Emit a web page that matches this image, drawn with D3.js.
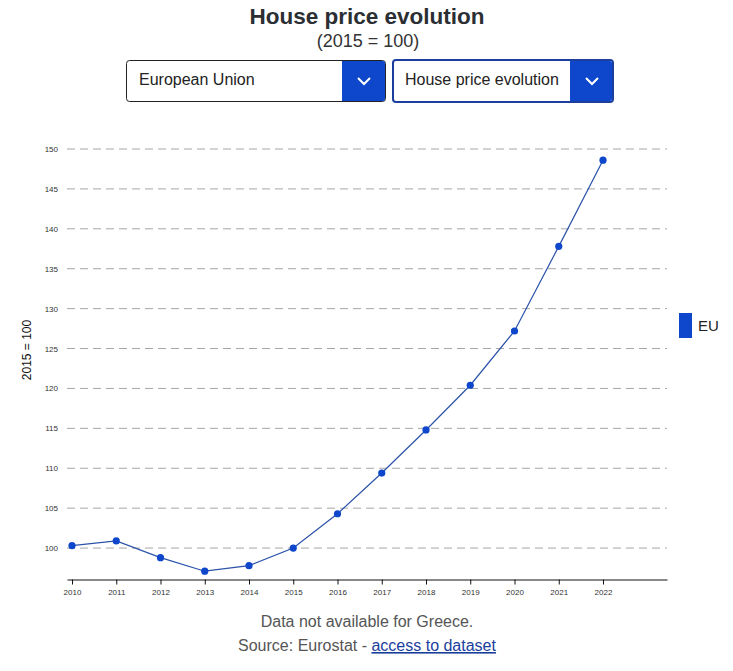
<!DOCTYPE html>
<html><head><meta charset="utf-8">
<script src="https://cdn.jsdelivr.net/npm/d3@7"></script>
<style>
html,body{margin:0;padding:0;background:#fff;}
svg{display:block;font-family:"Liberation Sans",Arial,sans-serif;}
</style></head>
<body>
<svg id="c" width="733" height="671"></svg>
<script>
const years = [2010,2011,2012,2013,2014,2015,2016,2017,2018,2019,2020,2021,2022];
const euValues = [100.3,100.9,98.8,97.1,97.8,100.0,104.3,109.4,114.8,120.4,127.2,137.8,148.6];
const yTicks = [100,105,110,115,120,125,130,135,140,145,150];
const seriesName = "EU";
const title = "House price evolution";
const subtitle = "(2015 = 100)";
const yLabel = "2015 = 100";
const dropdown1 = "European Union";
const dropdown2 = "House price evolution";
const note = "Data not available for Greece.";

const blue = "#0e47cb";
const svg = d3.select("#c");

// title
svg.append("text").attr("x",367).attr("y",24).attr("text-anchor","middle")
  .attr("font-size",22.5).attr("font-weight","bold").attr("fill","#2b2f33").text(title);
svg.append("text").attr("x",368).attr("y",47).attr("text-anchor","middle")
  .attr("font-size",18).attr("fill","#333").text(subtitle);

// dropdowns
function dropdown(x,y,w,h,btnW,border,bw,label){
  const g = svg.append("g");
  g.append("rect").attr("x",x+bw/2).attr("y",y+bw/2).attr("width",w-bw).attr("height",h-bw)
    .attr("rx",3).attr("fill","#fff").attr("stroke",border).attr("stroke-width",bw);
  g.append("path").attr("d",`M${x+w-btnW},${y+bw} H${x+w-bw-2} Q${x+w-bw},${y+bw} ${x+w-bw},${y+bw+2} V${y+h-bw-2} Q${x+w-bw},${y+h-bw} ${x+w-bw-2},${y+h-bw} H${x+w-btnW} Z`)
    .attr("fill",blue);
  const cx = x+w-btnW/2, cy = y+h/2;
  g.append("path").attr("d",`M${cx-6},${cy-3} L${cx},${cy+3} L${cx+6},${cy-3}`)
    .attr("fill","none").attr("stroke","#fff").attr("stroke-width",2);
  g.append("text").attr("x",x+13).attr("y",y+h/2+3.5).attr("font-size",16).attr("fill","#222").text(label);
}
dropdown(126,60,260,42,44,"#222",1,dropdown1);
dropdown(392,59,222,44,44,"#1c3f9e",2,dropdown2);

// scales
const x = d3.scaleLinear().domain([2009.887,2023.446]).range([67,667]);
const y = d3.scaleLinear().domain([96,150]).range([580,149]);

// grid
svg.append("g").selectAll("line").data(yTicks).join("line")
  .attr("x1",67).attr("x2",667).attr("y1",d=>y(d)).attr("y2",d=>y(d))
  .attr("stroke","#a6a6a6").attr("stroke-width",1).attr("stroke-dasharray","8,5");

// y tick labels
svg.append("g").selectAll("text").data(yTicks).join("text")
  .attr("x",58).attr("y",d=>y(d)+3).attr("text-anchor","end")
  .attr("font-size",8).attr("fill","#333").text(d=>d);

// y label
svg.append("text").attr("transform","translate(31,350) rotate(-90)")
  .attr("text-anchor","middle").attr("font-size",12).attr("fill","#111").text(yLabel);

// x axis
const xAxis = d3.axisBottom(x).tickValues(years).tickFormat(d3.format("d")).tickSize(5).tickSizeOuter(0);
const gx = svg.append("g").attr("transform","translate(0,579.5)").call(xAxis);
gx.select(".domain").attr("stroke","#111");
gx.selectAll(".tick line").attr("stroke","#111");
gx.selectAll(".tick text").attr("font-size",8).attr("fill","#333")
  .attr("font-family","Liberation Sans, Arial, sans-serif").attr("dy","0.9em");

// line
const data = years.map((yr,i)=>({yr, v:euValues[i]}));
svg.append("path").datum(data)
  .attr("d",d3.line().x(d=>x(d.yr)).y(d=>y(d.v)))
  .attr("fill","none").attr("stroke","#2a52a8").attr("stroke-width",1.2);
svg.append("g").selectAll("circle").data(data).join("circle")
  .attr("cx",d=>x(d.yr)).attr("cy",d=>y(d.v)).attr("r",3.6).attr("fill",blue);

// legend
svg.append("rect").attr("x",679).attr("y",313).attr("width",13).attr("height",25).attr("fill",blue);
svg.append("text").attr("x",698).attr("y",331).attr("font-size",15).attr("fill","#222").text(seriesName);

// footer
svg.append("text").attr("x",367).attr("y",627).attr("text-anchor","middle")
  .attr("font-size",16).attr("fill","#555").text(note);
const src = svg.append("text").attr("x",367).attr("y",651).attr("text-anchor","middle")
  .attr("font-size",16).attr("fill","#555");
src.append("tspan").text("Source: Eurostat - ");
src.append("tspan").attr("fill","#1a3e9c").attr("text-decoration","underline").text("access to dataset");
</script>
</body></html>
